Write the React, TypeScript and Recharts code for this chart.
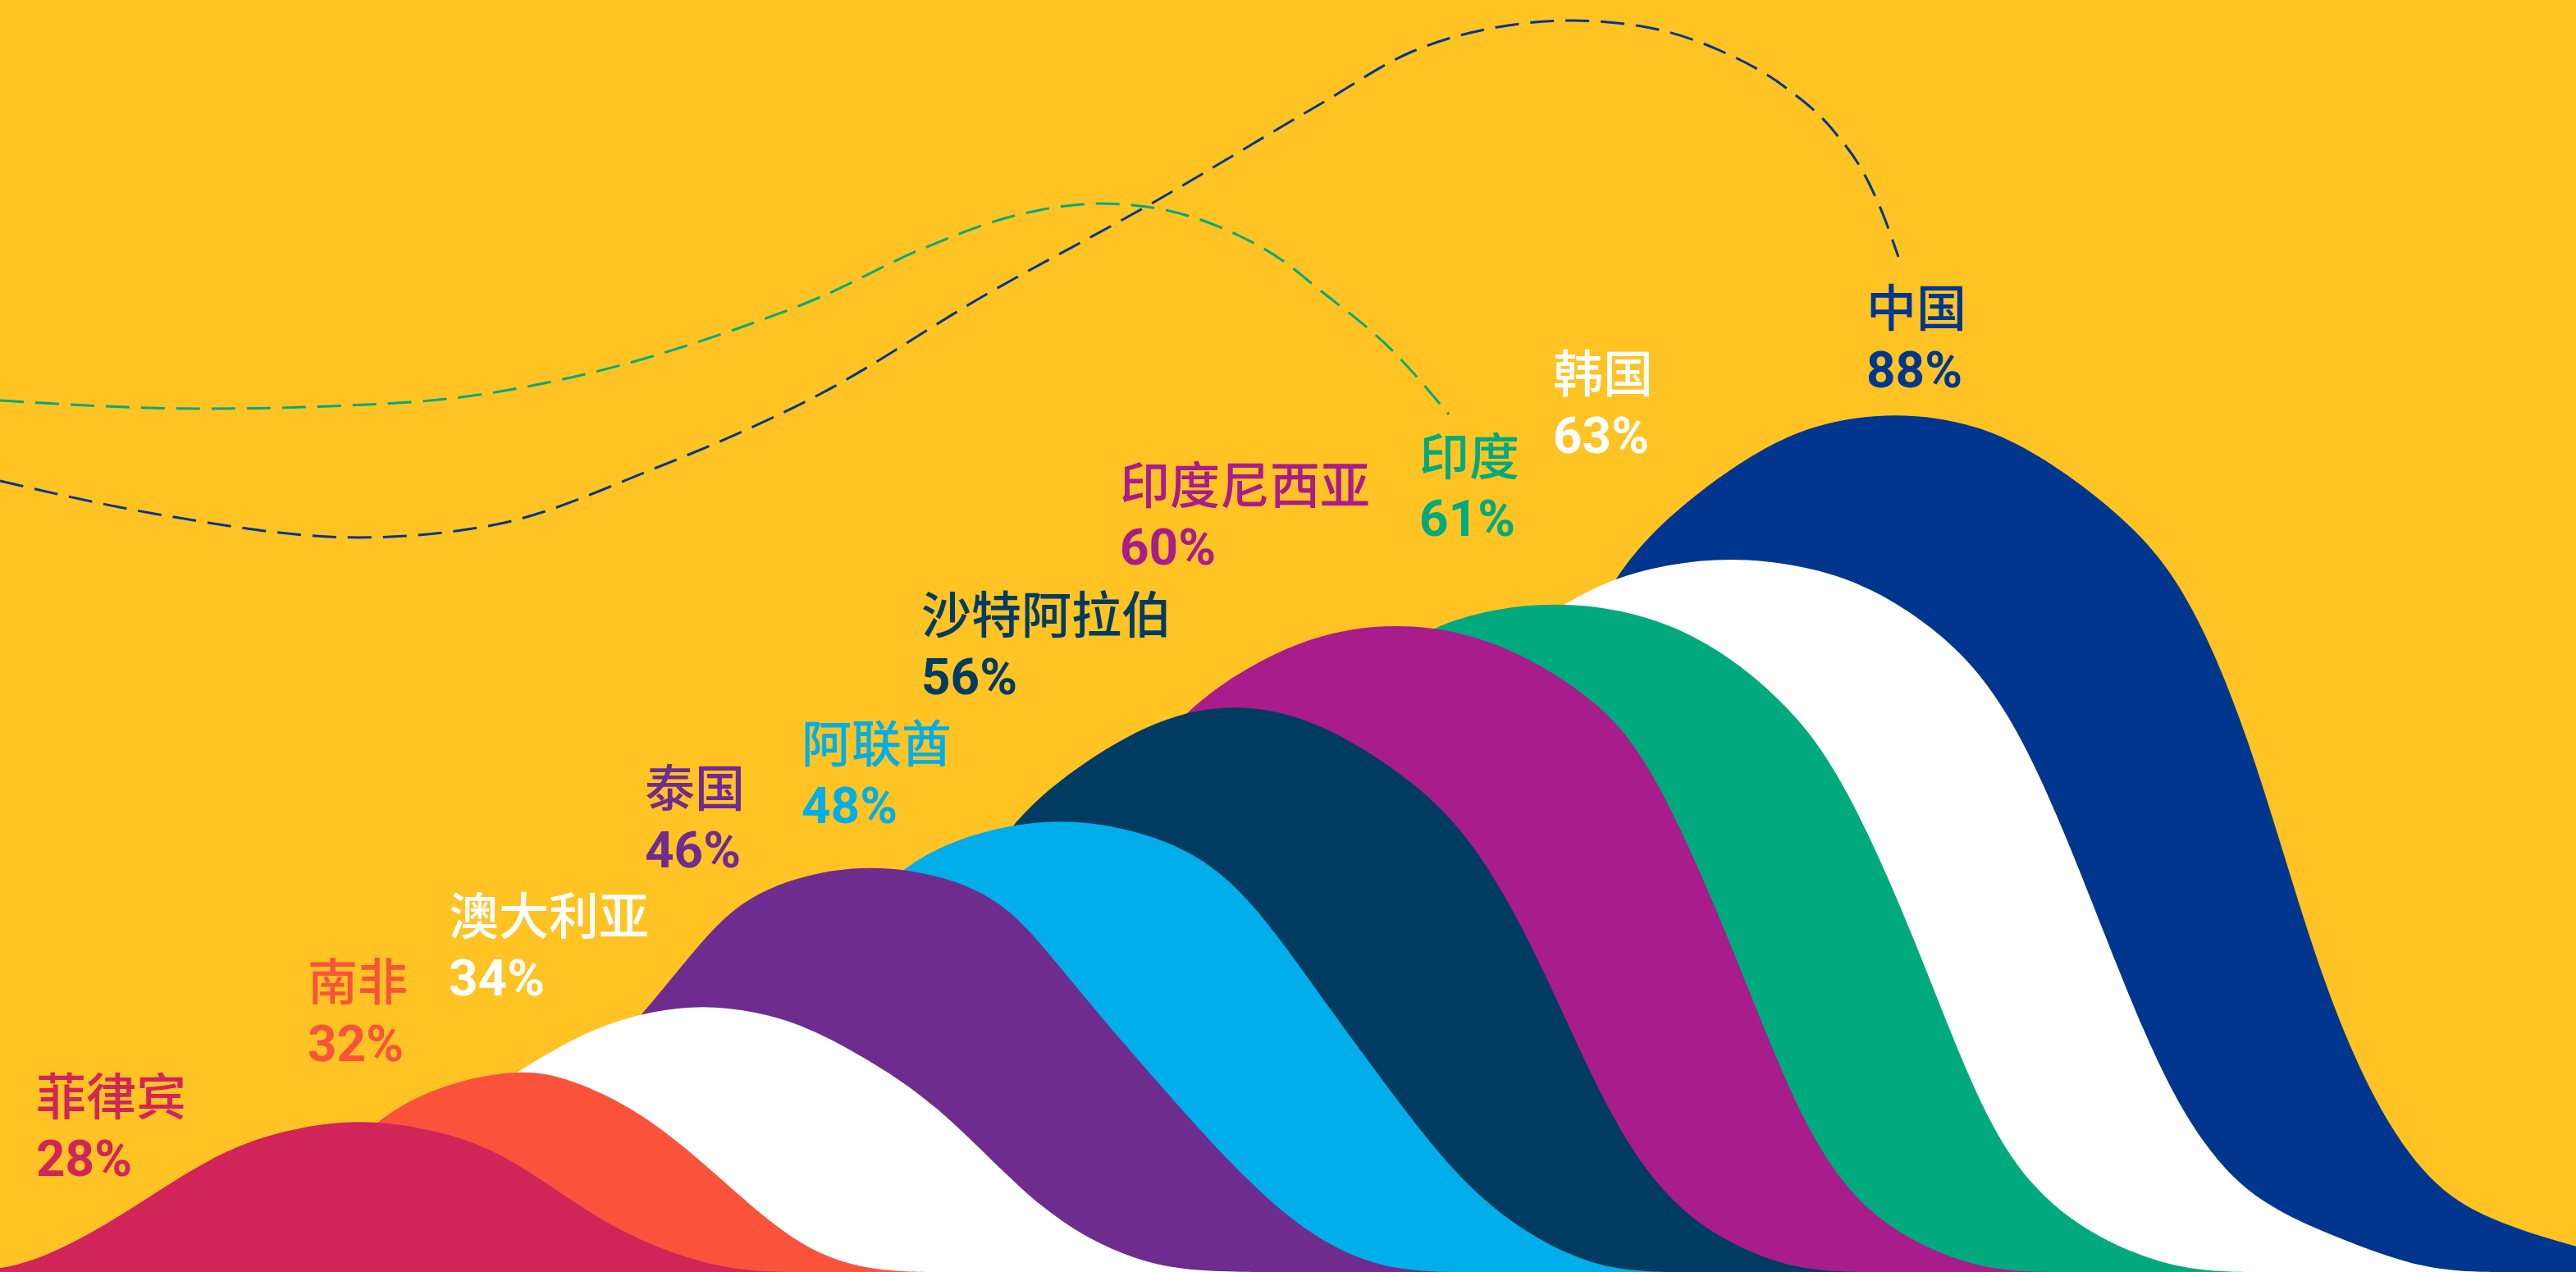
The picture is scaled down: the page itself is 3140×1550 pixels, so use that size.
import { ComposedChart, Area, Line, XAxis, YAxis, ReferenceDot } from 'recharts';

type Pt = [number, number];

// artboard units: x 0..3140 across, h 0..1550 up from the baseline
const COUNTRIES = ['中国', '韩国', '印度', '印度尼西亚', '沙特阿拉伯', '阿联酋', '泰国', '澳大利亚', '南非', '菲律宾'];
const SHARES = [88, 63, 61, 60, 56, 48, 46, 34, 32, 28];

const CHINA: Pt[] = [[1260, 0], [1360, 0], [1480, 30], [1600, 67], [1667, 117], [1733, 217], [1800, 383], [1873, 637], [1940, 803], [2007, 903], [2140, 1003], [2225, 1037], [2310, 1047], [2395, 1037], [2480, 1003], [2613, 903], [2680, 803], [2747, 637], [2820, 383], [2887, 217], [2953, 117], [3020, 67], [3140, 30], [3260, 0], [3360, 0]];
const KOREA: Pt[] = [[1160, 0], [1260, 0], [1367, 40], [1467, 83], [1533, 150], [1600, 267], [1707, 550], [1773, 687], [1840, 770], [1940, 837], [2025, 862], [2110, 871], [2195, 862], [2280, 837], [2380, 770], [2447, 687], [2513, 550], [2620, 267], [2687, 150], [2753, 83], [2853, 40], [2960, 0], [3060, 0]];
const INDIA: Pt[] = [[1035, 0], [1135, 0], [1236, 40], [1316, 100], [1380, 200], [1459, 410], [1542, 597], [1609, 690], [1709, 770], [1800, 806], [1896, 817], [1990, 806], [2083, 770], [2183, 690], [2250, 597], [2333, 410], [2412, 200], [2476, 100], [2556, 40], [2660, 0], [2760, 0]];
const INDONESIA: Pt[] = [[885, 0], [985, 0], [1082, 40], [1152, 95], [1217, 200], [1297, 410], [1387, 613], [1454, 697], [1580, 773], [1702, 794], [1824, 773], [1950, 697], [2017, 613], [2107, 410], [2187, 200], [2252, 95], [2322, 40], [2420, 0], [2520, 0]];
const SAUDI: Pt[] = [[720, 0], [820, 0], [915, 40], [985, 95], [1055, 200], [1150, 420], [1230, 548], [1310, 615], [1410, 675], [1505, 694], [1600, 675], [1700, 615], [1780, 548], [1860, 420], [1955, 200], [2025, 95], [2095, 40], [2190, 0], [2290, 0]];
const UAE: Pt[] = [[522, 0], [622, 0], [712, 40], [792, 100], [873, 200], [982, 350], [1082, 490], [1190, 538], [1291, 554], [1395, 538], [1500, 490], [1600, 350], [1709, 200], [1790, 100], [1870, 40], [1960, 0], [2060, 0]];
const THAILAND: Pt[] = [[322, 0], [422, 0], [502, 30], [582, 90], [685, 200], [822, 360], [892, 450], [980, 485], [1061, 496], [1145, 485], [1230, 450], [1300, 360], [1437, 200], [1540, 90], [1620, 30], [1700, 0], [1800, 0]];
const AUSTRALIA: Pt[] = [[152, 0], [252, 0], [330, 13], [439, 67], [562, 200], [660, 263], [730, 300], [795, 318], [856, 325], [920, 318], [982, 300], [1052, 263], [1150, 200], [1273, 67], [1382, 13], [1460, 0], [1560, 0]];
const SOUTH_AFRICA: Pt[] = [[120, 0], [220, 0], [300, 30], [380, 100], [456, 187], [540, 230], [640, 249], [701, 233], [772, 200], [842, 147], [912, 83], [982, 27], [1060, 0], [1160, 0]];
const PHILIPPINES: Pt[] = [[-80, 0], [20, 0], [133, 57], [267, 150], [367, 178], [453, 187], [561, 167], [631, 133], [702, 83], [772, 40], [884, 0], [984, 0]];

const CURVES = [CHINA, KOREA, INDIA, INDONESIA, SAUDI, UAE, THAILAND, AUSTRALIA, SOUTH_AFRICA, PHILIPPINES];

// dashed trails above the hills
const NAVY_TRAIL: Pt[] = [[0, 964], [200, 922], [437, 895], [600, 910], [800, 980], [1000, 1070], [1200, 1190], [1400, 1300], [1609, 1423], [1721, 1487], [1826, 1517], [1917, 1525], [2001, 1518], [2093, 1490], [2177, 1443], [2233, 1393], [2275, 1333], [2296, 1287], [2314, 1237]];
const GREEN_TRAIL: Pt[] = [[0, 1062], [250, 1052], [500, 1060], [696, 1090], [900, 1150], [1000, 1188], [1120, 1245], [1240, 1288], [1342, 1302], [1405, 1297], [1461, 1283], [1510, 1263], [1567, 1230], [1602, 1202], [1700, 1120], [1766, 1045]];

const FILLS = ['#00368D', '#FFFFFF', '#00A97E', '#A81C8B', '#003B61', '#00AEE9', '#6E2C8F', '#FFFFFF', '#FB533B', '#D12459'];
// label box: left edge / percentage baseline, relative to the hill top in px
const LABEL_OFFSETS: Pt[] = [[-35, -31], [-217, -127], [-166, -80], [-337, -68], [-382, -10], [-314, 7], [-275, 3], [-309, -12], [-265, -8], [-409, 70]];

const W = 3140;
const H = 1550;
const BLEED = 10; // hills are closed a little below the visible edge
const CJK = "'Noto Sans CJK SC', 'Noto Sans', sans-serif";
const DIGITS = "Roboto, 'Noto Sans', sans-serif";

const rows = (pts: Pt[]) => pts.map(([x, h]) => ({ x, h }));
const peakOf = (pts: Pt[]) => pts.reduce((a, b) => (b[1] > a[1] ? b : a));

function makeLabel(i: number) {
  return (props: any) => {
    const vb = props.viewBox || {};
    const x = (vb.x ?? props.x ?? 0) + LABEL_OFFSETS[i][0];
    const y = (vb.y ?? props.y ?? 0) + LABEL_OFFSETS[i][1];
    return (
      <text fill={FILLS[i]}>
        <tspan x={x} y={y - 74} fontSize={61} fontWeight={500} fontFamily={CJK}>
          {COUNTRIES[i]}
        </tspan>
        <tspan x={x} y={y} fontSize={62} fontWeight={700} fontFamily={DIGITS}>
          {SHARES[i]}%
        </tspan>
      </text>
    );
  };
}

export default function App() {
  return (
    <div style={{ position: 'fixed', left: 0, top: 0, width: W, height: H, background: '#FFC324', overflow: 'hidden' }}>
      <ComposedChart width={W} height={H + BLEED} margin={{ top: 0, right: 0, bottom: 0, left: 0 }}>
        <XAxis type="number" dataKey="x" domain={[0, W]} allowDataOverflow hide />
        <YAxis type="number" domain={[-BLEED, H]} allowDataOverflow hide />
        <Line data={rows(NAVY_TRAIL)} dataKey="h" type="monotone" stroke="#00368D" strokeWidth={3} strokeDasharray="29 14" dot={false} activeDot={false} isAnimationActive={false} />
        <Line data={rows(GREEN_TRAIL)} dataKey="h" type="monotone" stroke="#00A97E" strokeWidth={3} strokeDasharray="29 14" dot={false} activeDot={false} isAnimationActive={false} />
        {CURVES.map((pts, i) => (
          <Area
            key={COUNTRIES[i]}
            data={rows(pts)}
            dataKey="h"
            type="basis"
            baseValue={-BLEED}
            stroke="none"
            fill={FILLS[i]}
            fillOpacity={1}
            dot={false}
            activeDot={false}
            isAnimationActive={false}
          />
        ))}
        {CURVES.map((pts, i) => {
          const [px, ph] = peakOf(pts);
          return (
            <ReferenceDot key={`lbl-${i}`} x={px} y={ph} r={0} fill="none" stroke="none" label={makeLabel(i)} />
          );
        })}
      </ComposedChart>
    </div>
  );
}
